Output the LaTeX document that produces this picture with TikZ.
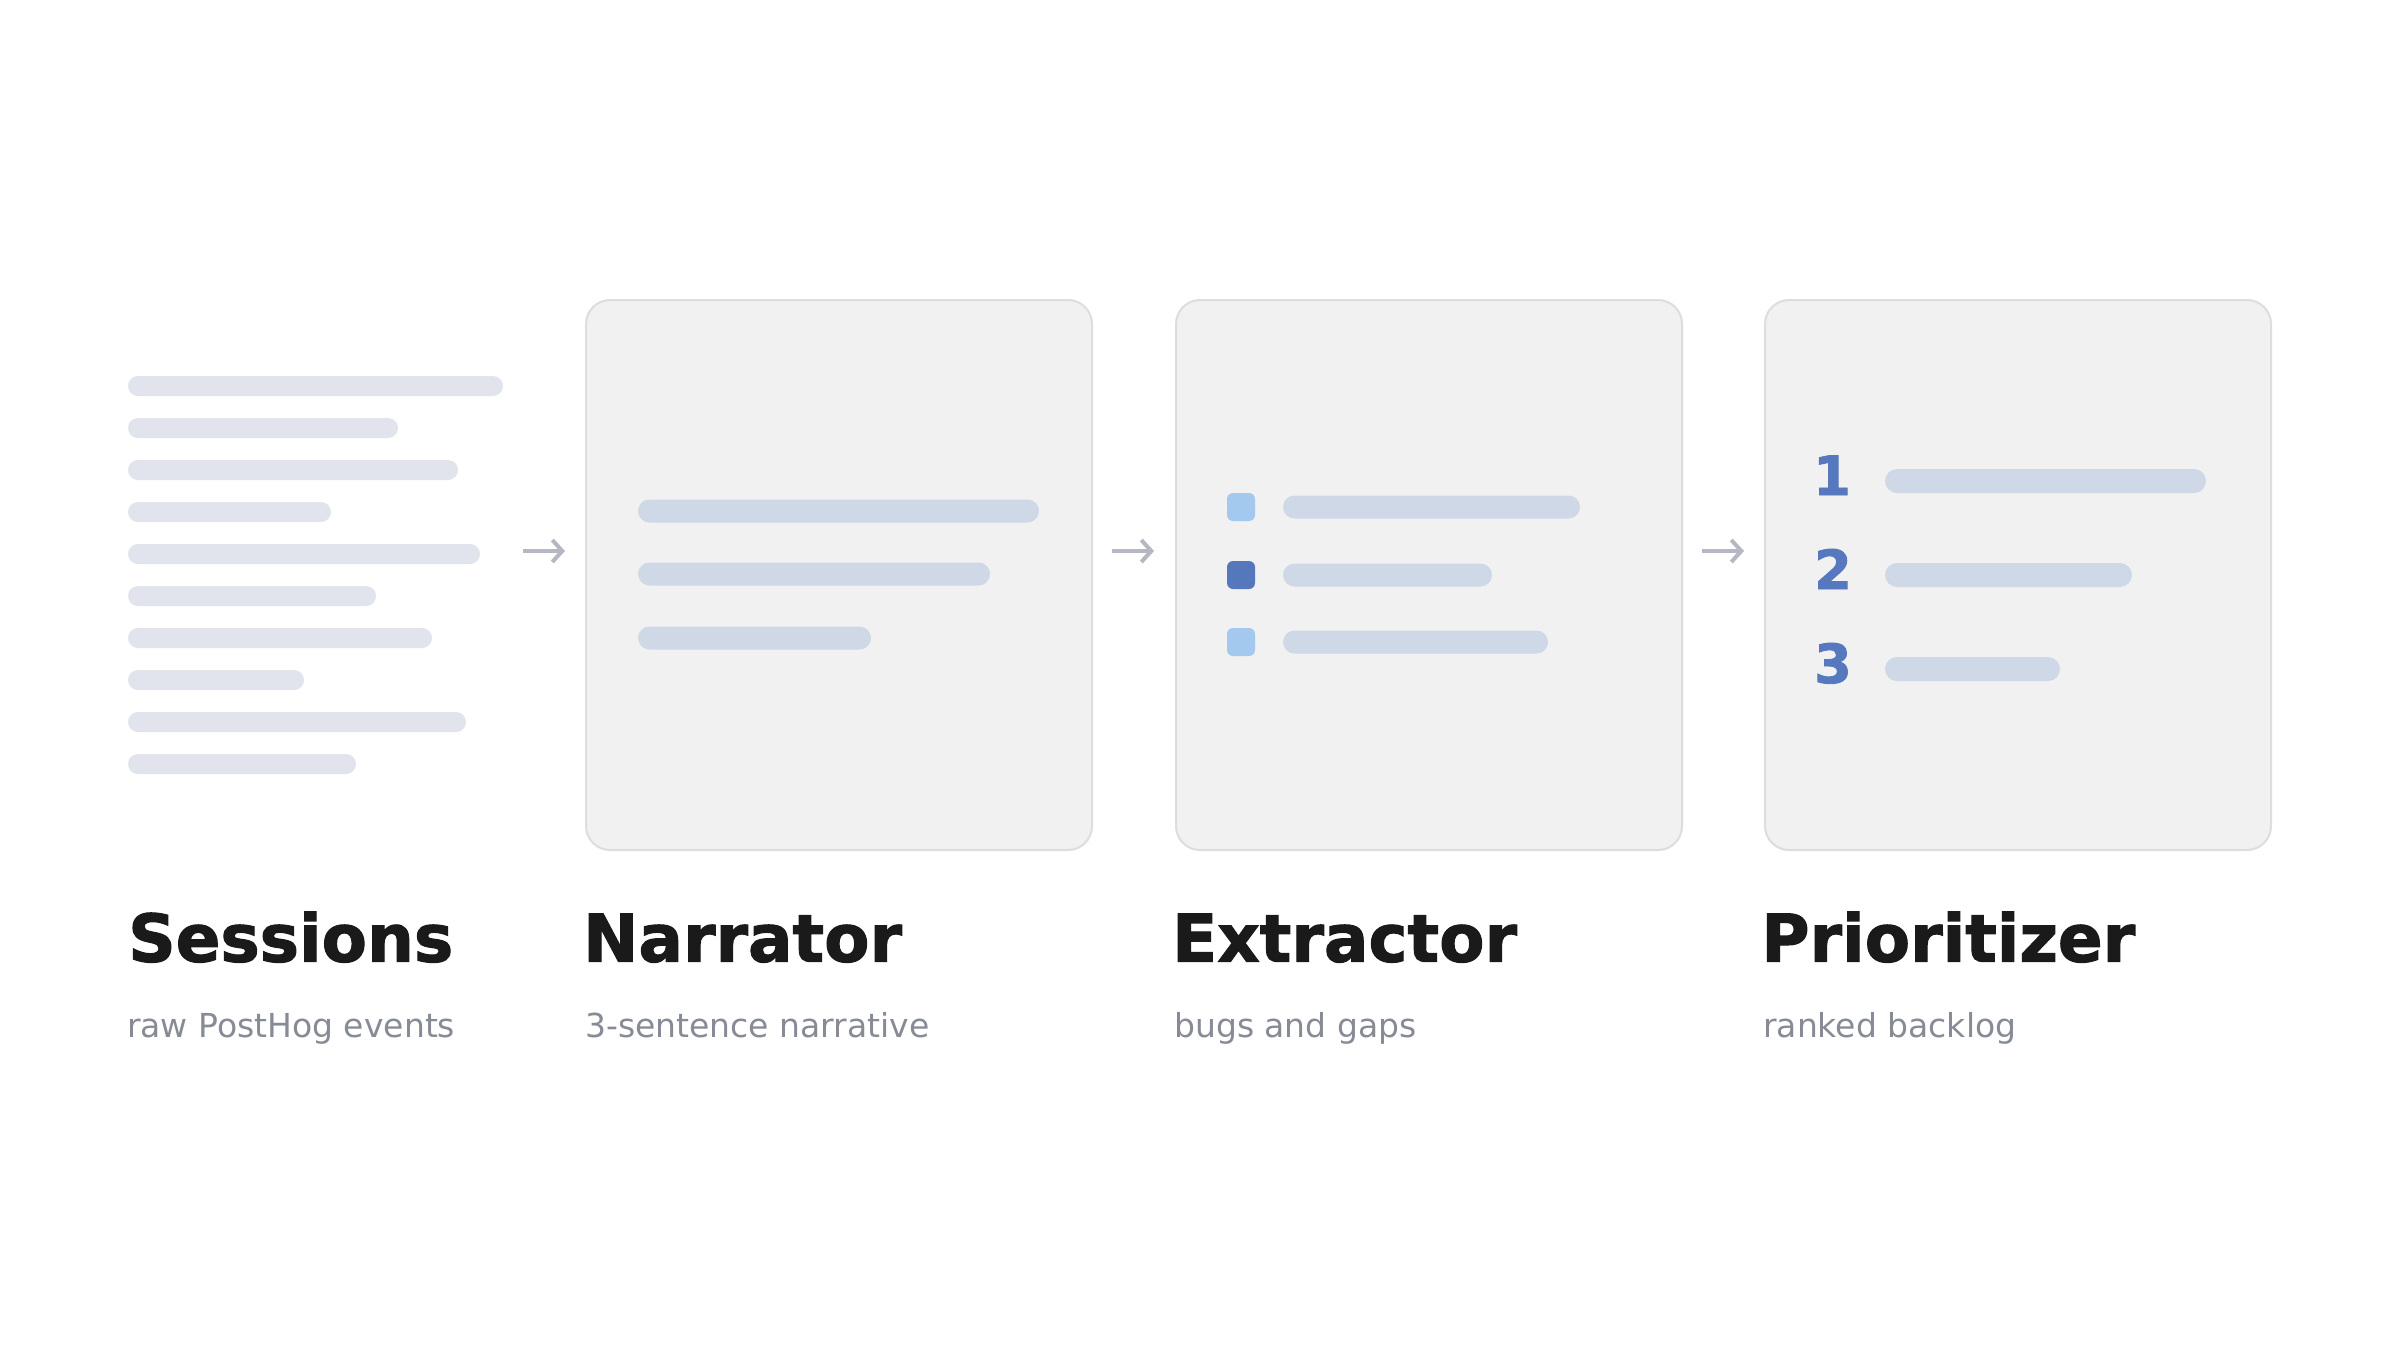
\documentclass[tikz,border=0pt]{standalone}
\usepackage{fontspec}
\usetikzlibrary{arrows.meta}
\setmainfont{DejaVu Sans}
\newfontfamily\dvsans{DejaVu Sans}
\newfontfamily\dvheavy{DejaVu Sans}[BoldFeatures={FakeBold=1.6}]
\definecolor{sbar}{HTML}{E1E4EC}
\definecolor{cbar}{HTML}{CFD8E6}
\definecolor{cardfill}{HTML}{F1F1F1}
\definecolor{cardline}{HTML}{DDDDDD}
\definecolor{arrowc}{HTML}{B5B8C2}
\definecolor{sqlight}{HTML}{A3C9EF}
\definecolor{sqdark}{HTML}{5577BB}
\definecolor{numc}{HTML}{5678BE}
\definecolor{headc}{HTML}{1A1A1A}
\definecolor{subc}{HTML}{868B96}
\newcommand\headfont{\dvheavy\bfseries\fontsize{66}{66}\selectfont}
\newcommand\numfont{\dvheavy\bfseries\fontsize{54}{54}\selectfont}
\newcommand\subfont{\dvsans\fontsize{33}{33}\selectfont}
% color, x-left, x-right, y-center, half-height
\newcommand\mypill[5]{\path[fill=#1, rounded corners=#5pt] (#2,#4-#5) rectangle (#3,#4+#5);}
\tikzset{
  card/.style={draw=cardline, line width=2pt, fill=cardfill, rounded corners=24pt,
    minimum width=506pt, minimum height=550pt, inner sep=0pt, anchor=north west},
  flow/.style={draw=arrowc, line width=4pt, -{Straight Barb[length=10pt, width=22pt]}},
  head/.style={anchor=base west, inner sep=0pt, font=\headfont, text=headc},
  sub/.style={anchor=base west, inner sep=0pt, font=\subfont, text=subc},
  num/.style={anchor=base west, inner sep=0pt, font=\numfont, text=numc},
  sq/.style={rounded corners=6pt},
}
\begin{document}
\begin{tikzpicture}[x=1pt,y=-1pt]
\useasboundingbox (0,0) rectangle (2400,1350);
\fill[white] (0,0) rectangle (2400,1350);

% Sessions column bars
\mypill{sbar}{128}{503}{386}{10}
\mypill{sbar}{128}{398}{428}{10}
\mypill{sbar}{128}{458}{470}{10}
\mypill{sbar}{128}{331}{512}{10}
\mypill{sbar}{128}{480}{554}{10}
\mypill{sbar}{128}{376}{596}{10}
\mypill{sbar}{128}{432}{638}{10}
\mypill{sbar}{128}{304}{680}{10}
\mypill{sbar}{128}{466}{722}{10}
\mypill{sbar}{128}{356}{764}{10}

% Cards
\node[card] (narr) at (585,299) {};
\node[card] (extr) at (1175,299) {};
\node[card] (prio) at (1764,299) {};

% Narrator bars
\mypill{cbar}{638}{1039}{511}{11.5}
\mypill{cbar}{638}{990}{574}{11.5}
\mypill{cbar}{638}{871}{638}{11.5}

% Extractor squares and bars
\path[fill=sqlight, sq] (1227,493) rectangle (1255,521);
\path[fill=sqdark, sq] (1227,561) rectangle (1255,589);
\path[fill=sqlight, sq] (1227,628) rectangle (1255,656);
\mypill{cbar}{1283}{1580}{507}{11.5}
\mypill{cbar}{1283}{1492}{575}{11.5}
\mypill{cbar}{1283}{1548}{642}{11.5}

% Prioritizer numbers and bars
\node[num] (n1) at (1813,495) {1};
\node[num] (n2) at (1814,589) {2};
\node[num] (n3) at (1814,683) {3};
\mypill{cbar}{1885}{2206}{481}{12}
\mypill{cbar}{1885}{2132}{575}{12}
\mypill{cbar}{1885}{2060}{669}{12}

% Arrows
\coordinate (a1s) at (523,551); \coordinate (a1e) at (565,551);
\coordinate (a2s) at (1112,551); \coordinate (a2e) at (1154,551);
\coordinate (a3s) at (1702,551); \coordinate (a3e) at (1744,551);
\draw[flow] (a1s) -- (a1e);
\draw[flow] (a2s) -- (a2e);
\draw[flow] (a3s) -- (a3e);

% Titles
\node[head] (t1) at (128,961.7) {Sessions};
\node[head] (t2) at (583,961.7) {Narrator};
\node[head] (t3) at (1172,961.7) {Extractor};
\node[head] (t4) at (1761,961.7) {Prioritizer};

% Subtitles
\node[sub] (s1) at (127,1037.7) {raw PostHog events};
\node[sub] (s2) at (585,1037.7) {3-sentence narrative};
\node[sub] (s3) at (1174,1037.7) {bugs and gaps};
\node[sub] (s4) at (1763,1037.7) {ranked backlog};
\end{tikzpicture}
\end{document}
